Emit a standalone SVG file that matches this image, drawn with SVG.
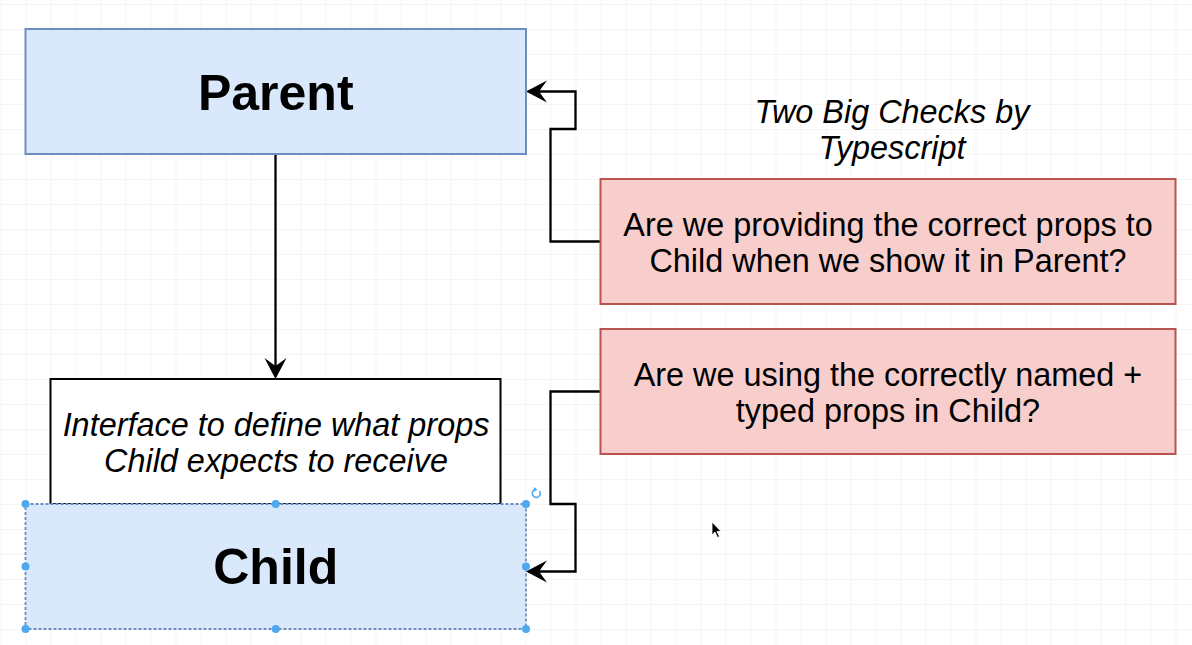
<svg xmlns="http://www.w3.org/2000/svg" width="1192" height="645" viewBox="0 0 1192 645">
<defs>
<style>
.blue{fill:#dae8fc;stroke:#6c8ebf;stroke-width:2}
.red{fill:#f8cecc;stroke:#b85450;stroke-width:2}
.plain{fill:#ffffff;stroke:#000000;stroke-width:2}
.conn{fill:none;stroke:#000000;stroke-width:2.3;stroke-linejoin:miter}
.big{font-family:"Liberation Sans",Arial,sans-serif;font-weight:bold;font-size:50px;fill:#000;text-anchor:middle}
.txt{font-family:"Liberation Sans",Arial,sans-serif;font-size:32.4px;fill:#000;text-anchor:middle}
.it{font-style:italic}
.handle{fill:#4ea9f0}
</style>
<pattern id="grid" x="0.5" y="4" width="25" height="25" patternUnits="userSpaceOnUse">
<path d="M0,0 H25 M0,0 V25" fill="none" stroke="#ececec" stroke-width="1"/>
</pattern>
<marker id="arrow" markerUnits="userSpaceOnUse" viewBox="-23 -12 25 24" refX="-10" refY="0" markerWidth="25" markerHeight="24" orient="auto">
<path d="M0,0 L-21,-11 L-13,0 L-21,11 Z" fill="#000"/>
</marker>
</defs>
<rect x="0" y="0" width="1192" height="645" fill="#ffffff"/>
<rect x="0" y="0" width="1192" height="645" fill="url(#grid)"/>

<g id="connectors">
<path class="conn" d="M275.5,154 V369" marker-end="url(#arrow)"/>
<path class="conn" d="M600.5,241.5 H550.5 V129 H575.5 V91.5 H536" marker-end="url(#arrow)"/>
<path class="conn" d="M600.5,391.5 H550.5 V504 H575.5 V571.5 H536" marker-end="url(#arrow)"/>
</g>

<g id="parent">
<rect class="blue" x="25.5" y="29" width="500.5" height="125"/>
<text class="big" x="275.75" y="109.5">Parent</text>
</g>

<g id="interface">
<rect class="plain" x="50.5" y="379" width="450" height="125"/>
<text class="txt it" x="276" y="436">Interface to define what props</text>
<text class="txt it" x="276" y="472">Child expects to receive</text>
</g>

<g id="child">
<rect x="25.5" y="504" width="500.5" height="125" fill="#dae8fc" stroke="#6c8ebf" stroke-width="1.8" stroke-dasharray="3,2"/>
<text class="big" x="275.75" y="584">Child</text>
<circle class="handle" cx="25.5" cy="504" r="4"/>
<circle class="handle" cx="275.75" cy="504" r="4"/>
<circle class="handle" cx="526" cy="504" r="4"/>
<circle class="handle" cx="25.5" cy="566.5" r="4"/>
<circle class="handle" cx="526" cy="566.5" r="4"/>
<circle class="handle" cx="25.5" cy="629" r="4"/>
<circle class="handle" cx="275.75" cy="629" r="4"/>
<circle class="handle" cx="526" cy="629" r="4"/>
<path d="M539.5,491 A4,4 0 1 1 535,489.6" fill="none" stroke="#4ea9f0" stroke-width="1.6"/>
<path d="M534,487 L537.5,489.8 L533.6,491.8 Z" fill="#4ea9f0"/>
</g>

<g id="title">
<text class="txt it" x="892" y="123">Two Big Checks by</text>
<text class="txt it" x="892" y="159">Typescript</text>
</g>

<g id="check1">
<rect class="red" x="600.5" y="179" width="575" height="125"/>
<text class="txt" x="888" y="236">Are we providing the correct props to</text>
<text class="txt" x="888" y="272">Child when we show it in Parent?</text>
</g>

<g id="check2">
<rect class="red" x="600.5" y="329" width="575" height="125"/>
<text class="txt" x="888" y="386">Are we using the correctly named +</text>
<text class="txt" x="888" y="422">typed props in Child?</text>
</g>

<path d="M712,522 L712,535 L715,532 L717.5,537.5 L719.5,536.5 L717,531.5 L721,531.5 Z" fill="#000" stroke="#fff" stroke-width="0.8"/>
</svg>
